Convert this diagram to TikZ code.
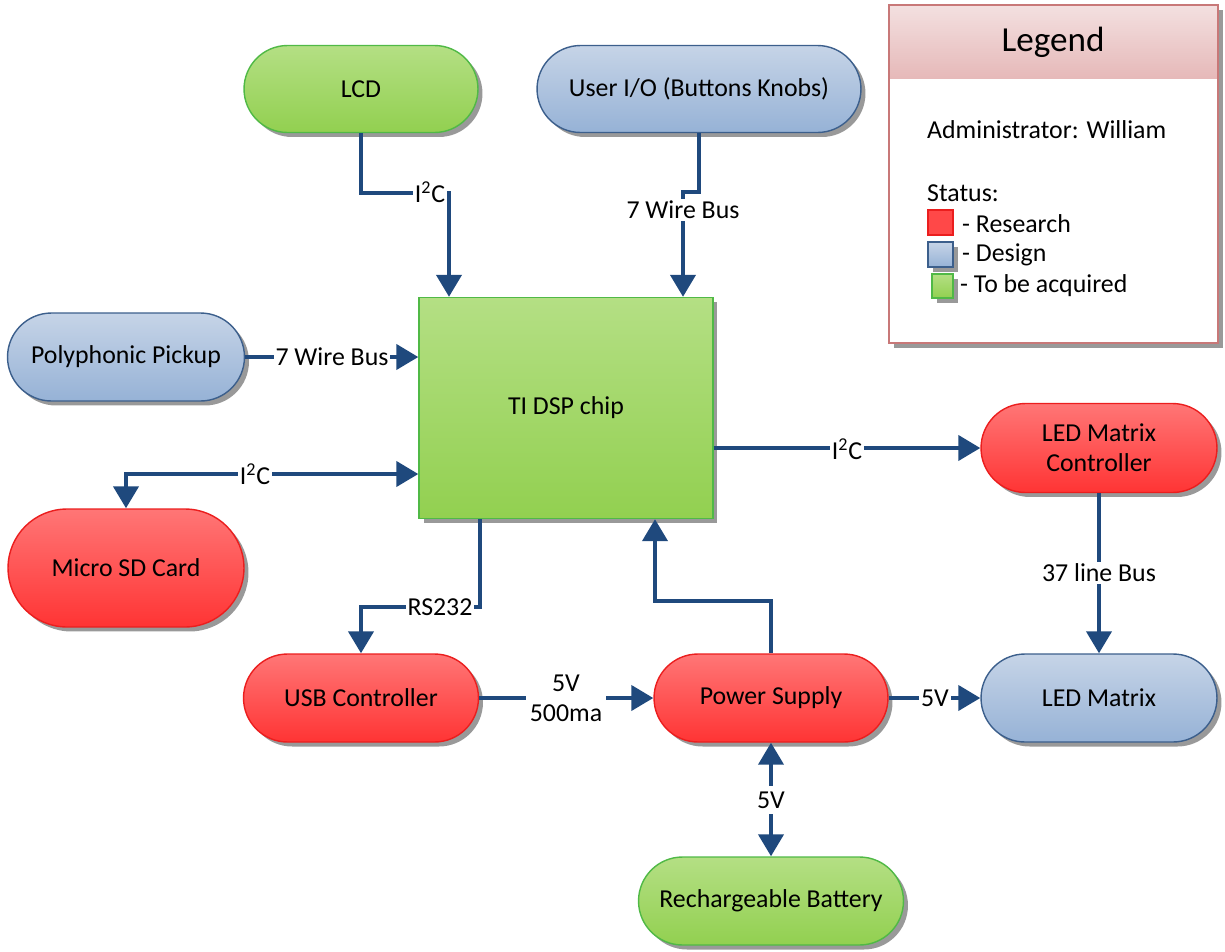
\documentclass[tikz,border=0pt]{standalone}
\usepackage{fontspec}
\setmainfont{Carlito}
\usetikzlibrary{arrows.meta,shapes.misc,shadows,calc}
\definecolor{linkc}{RGB}{31,73,125}
\definecolor{greentop}{RGB}{180,223,132}
\definecolor{greenbot}{RGB}{146,208,80}
\definecolor{greenborder}{RGB}{80,185,70}
\definecolor{bluetop}{RGB}{198,212,231}
\definecolor{bluebot}{RGB}{150,178,214}
\definecolor{blueborder}{RGB}{60,95,140}
\definecolor{redtop}{RGB}{255,118,118}
\definecolor{redbot}{RGB}{255,52,52}
\definecolor{redborder}{RGB}{235,30,30}
\definecolor{legborder}{RGB}{200,120,120}
\definecolor{legtop}{RGB}{243,224,224}
\definecolor{legbot}{RGB}{230,185,185}
\begin{document}
\begin{tikzpicture}[x=0.02cm,y=-0.02cm,
  font=\fontsize{14.7}{17.2}\selectfont,
  shad/.style={drop shadow={shadow xshift=0.09cm,shadow yshift=-0.09cm,fill=black!40,opacity=1}},
  pill/.style={rounded rectangle, inner sep=0pt, align=center, line width=0.8pt, shad},
  grn/.style={pill, draw=greenborder, top color=greentop, bottom color=greenbot},
  blu/.style={pill, draw=blueborder, top color=bluetop, bottom color=bluebot},
  rd/.style={pill, draw=redborder, top color=redtop, bottom color=redbot},
  dspbox/.style={rectangle, inner sep=0pt, line width=0.8pt, draw=greenborder, top color=greentop, bottom color=greenbot, shad},
  link/.style={draw=linkc, line width=2.3pt},
  tip/.style={-{Triangle[length=0.44cm,width=0.5cm]}},
  tips/.style={{Triangle[length=0.44cm,width=0.5cm]}-{Triangle[length=0.44cm,width=0.5cm]}},
  lbl/.style={fill=white, inner sep=1pt, align=center},
  sq/.style={line width=0.8pt}
]
\useasboundingbox (0,0) rectangle (1225,951);

% nodes
\node[grn, minimum width=4.68cm, minimum height=1.74cm] (lcd) at (361,89) {LCD};
\node[blu, minimum width=6.48cm, minimum height=1.74cm] (uio) at (699,89) {User I/O (Buttons Knobs)};
\node[blu, minimum width=4.74cm, minimum height=1.76cm] (pp) at (126,357) {Polyphonic Pickup};
\node[rd, minimum width=4.72cm, minimum height=2.36cm] (sd) at (126,568) {Micro SD Card};
\node[dspbox, minimum width=5.88cm, minimum height=4.42cm] (dsp) at (566,408) {TI DSP chip};
\node[rd, minimum width=4.72cm, minimum height=1.78cm] (ledc) at (1099,448) {LED Matrix\\Controller};
\node[rd, minimum width=4.70cm, minimum height=1.76cm] (usb) at (361,698) {USB Controller};
\node[rd, minimum width=4.68cm, minimum height=1.76cm] (ps) at (771,698) {Power Supply};
\node[blu, minimum width=4.72cm, minimum height=1.76cm] (led) at (1099,698) {LED Matrix};
\node[grn, minimum width=5.30cm, minimum height=1.76cm] (bat) at (771,901) {Rechargeable Battery};

% connectors
\coordinate (lcdbend) at (449,193);
\draw[link,tip] (lcd.south) |- (lcdbend) -- (lcdbend |- dsp.north);
\node[lbl] at (430,192) {I\textsuperscript{2}C};

\coordinate (uiobend) at (683,192);
\draw[link,tip] (uio.south) -- (uio.south |- uiobend) -- (uiobend) -- (uiobend |- dsp.north);
\node[lbl] at (683,210) {7 Wire Bus};

\draw[link,tip] (pp.east) -- (pp.east -| dsp.west);
\node[lbl] at (332,357) {7 Wire Bus};

\coordinate (sdrow) at (0,474);
\draw[link,tips] (sd.north) |- (sdrow -| dsp.west);
\node[lbl] at (255,474) {I\textsuperscript{2}C};

\draw[link,tip] (ledc.west -| dsp.east) -- (ledc.west);
\node[lbl] at (847,449) {I\textsuperscript{2}C};

\coordinate (rsx) at (480,607);
\draw[link,tip] (rsx |- dsp.south) -- (rsx) -| (usb.north);
\node[lbl] at (440,607) {RS232};

\draw[link,tip] (usb.east) -- (ps.west);
\node[lbl, inner sep=2pt] at (566,698) {5V\\500ma};

\coordinate (psbend) at (655,601);
\draw[link,tip] (ps.north) |- (psbend) -- (psbend |- dsp.south);

\draw[link,tip] (ps.east) -- (led.west);
\node[lbl] at (935,698) {5V};

\draw[link,tip] (ledc.south) -- (led.north);
\node[lbl] at (1099,573) {37 line Bus};

\draw[link,tips] (ps.south) -- (ps.south |- bat.north);
\node[lbl, inner sep=3pt] at (771,800) {5V};

% legend
\path[fill=white, shad] (889,5) rectangle (1218,343);
\shade[top color=legtop, bottom color=legbot] (889,5) rectangle (1218,78);
\draw[legborder, line width=0.8pt] (889,5) rectangle (1218,343);
\node at (1053,42) {\fontsize{20}{24}\selectfont Legend};
\node[anchor=west] at (921,130) {Administrator: William};
\node[anchor=west] at (921,193) {Status:};
\draw[sq, draw=redborder, fill=redbot!90!white] (928,210) rectangle (953,235);
\node[anchor=west] at (956,224) {- Research};
\draw[sq, draw=blueborder, top color=bluetop, bottom color=bluebot, shad] (928,242) rectangle (953,267);
\node[anchor=west] at (956,255) {- Design};
\draw[sq, draw=greenborder, top color=greentop, bottom color=greenbot, shad] (932,274) rectangle (953,298);
\node[anchor=west] at (954,286) {- To be acquired};
\end{tikzpicture}
\end{document}
